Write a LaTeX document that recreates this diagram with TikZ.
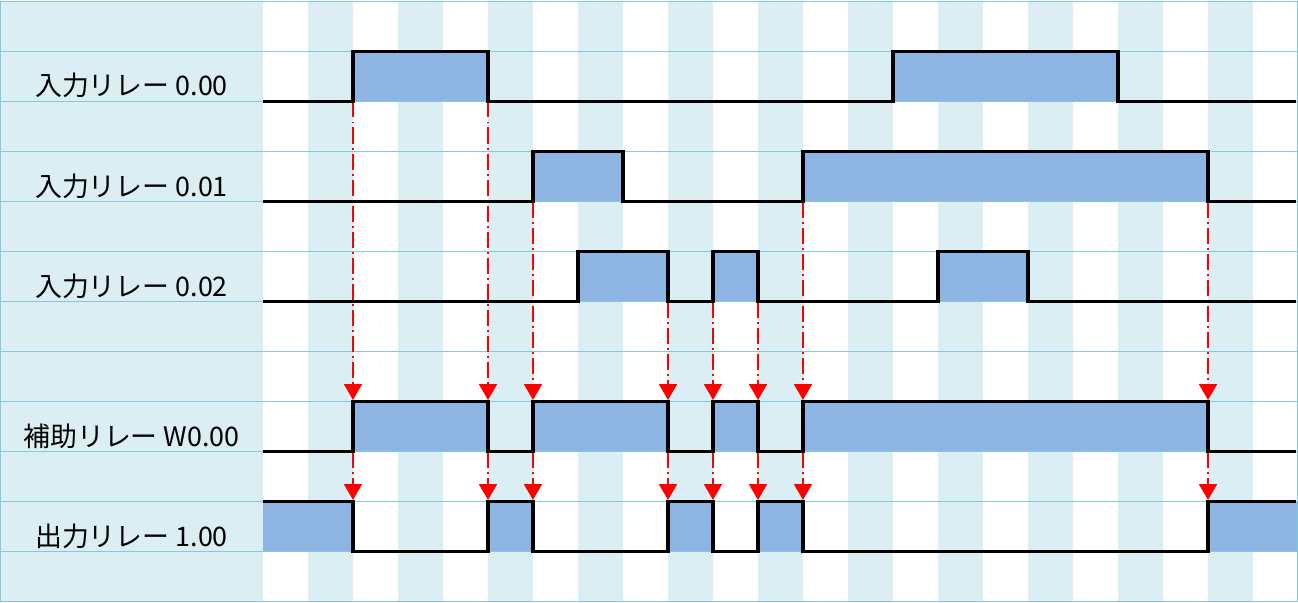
\documentclass[tikz,border=0pt]{standalone}
\usepackage{fontspec}
\setmainfont{Noto Sans CJK JP}
\usepackage{tikz}
\usetikzlibrary{arrows.meta}
\definecolor{colblue}{HTML}{DAEEF3}
\definecolor{gridblue}{HTML}{86C8D9}
\definecolor{highblue}{HTML}{8DB4E2}
\begin{document}
\begin{tikzpicture}[x=0.9cm, y=-1cm]
      \tikzstyle{high} = [fill=highblue]
      \tikzstyle{wave} = [line width=0.075cm, line join=miter]
      \tikzstyle{trig} = [red, line width=0.04cm, dash pattern=on 0.32cm off 0.08cm on 0.04cm off 0.08cm, -{Triangle[width=0.36cm, length=0.32cm]}]
      \tikzstyle{relay} = [anchor=base, font=\fontsize{15.3}{18}\selectfont]
      \useasboundingbox (-5.8444,-0.03) rectangle (23,12.01);

      \fill[colblue] (-5.8444,0) rectangle (0,12);
      \foreach \k in {1,3,...,21} {
        \fill[colblue] (\k,0) rectangle (\k+1,12);
      }

      \foreach \r/\a/\b in {
        1/2/5, 1/14/19,
        3/6/8, 3/12/21,
        5/7/9, 5/10/11, 5/15/17,
        8/2/5, 8/6/9, 8/10/11, 8/12/21,
        10/0/2, 10/5/6, 10/9/10, 10/11/12, 10/21/23
      } {
        \fill[high] (\a,\r) rectangle (\b,\r+1);
      }

      \foreach \r in {0,...,12} {
        \draw[gridblue, line width=0.025cm] (-5.8444,\r) -- (23,\r);
      }
      \draw[gridblue, line width=0.025cm] (-5.833,0) -- (-5.833,12);
      \draw[gridblue, line width=0.025cm] (22.99,0) -- (22.99,12);

      \node[relay] (in0) at (-2.922,1.89) {入力リレー 0.00};
      \node[relay] (in1) at (-2.922,3.89) {入力リレー 0.01};
      \node[relay] (in2) at (-2.922,5.89) {入力リレー 0.02};
      \node[relay] (aux) at (-2.922,8.89) {補助リレー W0.00};
      \node[relay] (out) at (-2.922,10.89) {出力リレー 1.00};

      \foreach \k/\s in {2/2, 5/2, 6/4, 9/6, 10/6, 11/6, 12/4, 21/4} {
        \draw[trig] (\k,\s) -- (\k,7.97);
        \draw[trig] (\k,9) -- (\k,9.97);
      }

      \draw[wave] (0,2) -| (2,1) -| (5,2) -| (14,1) -| (19,2) -- (22.95,2);
      \draw[wave] (0,4) -| (6,3) -| (8,4) -| (12,3) -| (21,4) -- (22.95,4);
      \draw[wave] (0,6) -| (7,5) -| (9,6) -| (10,5) -| (11,6) -| (15,5) -| (17,6) -- (22.95,6);
      \draw[wave] (0,9) -| (2,8) -| (5,9) -| (6,8) -| (9,9) -| (10,8) -| (11,9) -| (12,8) -| (21,9) -- (22.95,9);
      \draw[wave] (0,10) -| (2,11) -| (5,10) -| (6,11) -| (9,10) -| (10,11) -| (11,10) -| (12,11) -| (21,10) -- (22.95,10);
    \end{tikzpicture}
\end{document}
